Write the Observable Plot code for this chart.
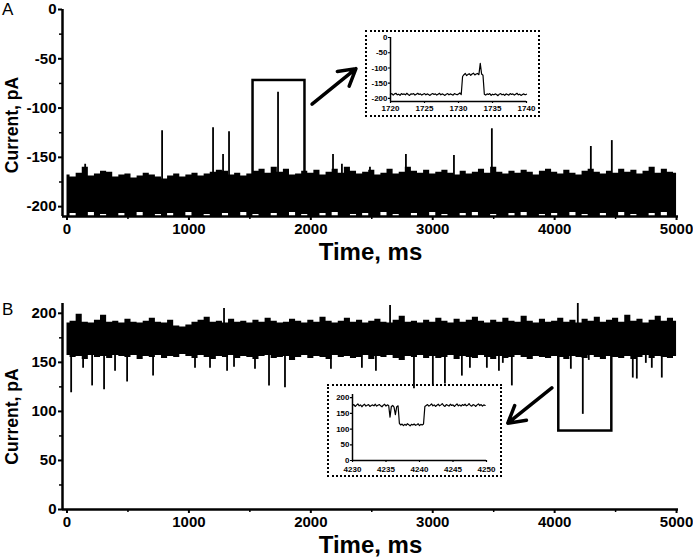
<!DOCTYPE html>
<html>
<head>
<meta charset="utf-8">
<script src="https://cdn.jsdelivr.net/npm/d3@7"></script>
<script src="https://cdn.jsdelivr.net/npm/@observablehq/plot@0.6"></script>
<style>
  html, body { margin: 0; padding: 0; background: #fff; }
  body { font-family: "Liberation Sans", Arial, sans-serif; }
  #wrap { position: relative; width: 693px; height: 558px; overflow: hidden; background: #fff; }
  .tag { position: absolute; font-size: 17px; line-height: 1; color: #000; }
  .inset { position: absolute; box-sizing: border-box; border: 2px dotted #000; background: transparent; }
  .inset svg { position: absolute; left: 0; top: 0; background: transparent !important; }
</style>
</head>
<body>
<div id="wrap"></div>
<script>
// ---------------- DATA ----------------
const xDomain = [-37, 5016];
const xMajorTicks = [0, 1000, 2000, 3000, 4000, 5000];
const xMinorTicks = [500, 1500, 2500, 3500, 4500];
const xLabel = "Time, ms";
const yLabel = "Current, pA";

// Panel A
const yDomainA = [-210, 0];
const yMajorA = [-200, -150, -100, -50, 0];
const yMinorA = [-175, -125, -75, -25];
const bandStep = 50; // ms between envelope samples
const bandTopA = [
 -168,-170,-166,-160,-169,-167,-164,-165,-170,-168,
 -167,-171,-169,-166,-168,-170,-172,-169,-167,-170,
 -168,-166,-169,-167,-165,-163,-164,-168,-166,-169,
 -167,-164,-162,-166,-160,-165,-162,-168,-167,-164,
 -166,-163,-168,-165,-162,-166,-160,-164,-167,-165,
 -163,-168,-166,-162,-167,-165,-160,-164,-166,-163,
 -167,-165,-163,-166,-168,-164,-167,-165,-162,-166,
 -160,-165,-167,-164,-166,-163,-165,-168,-164,-162,
 -165,-167,-163,-166,-168,-164,-162,-165,-167,-164,
 -166,-162,-165,-163,-167,-164,-160,-166,-162,-165,
 -166];
const bandBotA = [
 -210,-207,-210,-210,-206,-210,-208,-210,-210,-207,
 -210,-210,-206,-210,-210,-208,-210,-207,-210,-210,
 -206,-210,-210,-208,-210,-210,-207,-210,-210,-206,
 -210,-208,-210,-210,-207,-210,-210,-206,-210,-208,
 -210,-210,-207,-210,-206,-210,-210,-208,-210,-207,
 -210,-210,-206,-210,-208,-210,-210,-207,-210,-210,
 -206,-210,-208,-210,-210,-207,-210,-206,-210,-210,
 -208,-210,-210,-207,-210,-206,-210,-210,-208,-210,
 -207,-210,-210,-206,-210,-208,-210,-210,-207,-210,
 -210,-206,-210,-208,-210,-210,-207,-210,-206,-210,
 -210];
const spikeBaseA = -185;
const spikeTimesA = [149, 780, 1198, 1280, 1329, 1731, 2182, 2255, 2485, 2780, 3174, 3485, 4297, 4469];
const spikeValsA  = [-157, -123, -120, -147, -124, -84, -147, -157, -160, -147, -148, -121, -139, -133];
const zoomBoxA = {t1: 1526, t2: 1952, v1: -190, v2: -72};
const arrowA = {t1: 2010, v1: -96, t2: 2370, v2: -60};

// Inset A
const insetAStart = 1720, insetAStep = 0.2;
const insetAX = [1720, 1725, 1730, 1735, 1740];
const insetAY = [0, -50, -100, -150, -200];
const insetAYDomain = [-210, 0];
const insetAVals = [
 -186,-184,-189,-185,-183,-188,-186,-190,-184,-187,
 -185,-188,-183,-187,-190,-185,-186,-184,-189,-186,
 -183,-187,-185,-189,-186,-184,-188,-185,-187,-190,
 -186,-184,-187,-185,-189,-186,-183,-188,-185,-187,
 -190,-186,-184,-188,-185,-187,-189,-184,-186,-188,
 -185,-182,-187,
 -128,
 -122,-118,-125,-121,-119,-124,-120,-117,-123,-120,-118,-122,
 -85,
 -120,-124,
 -186,
 -189,-185,-187,-184,-190,-186,-188,-185,-187,-191,
 -186,-184,-188,-186,-190,-185,-187,-189,-184,-187,
 -185,-189,-186,-183,-188,-186,-190,-187,-185,-188,-186];

// Panel B
const yDomainB = [0, 210];
const yMajorB = [0, 50, 100, 150, 200];
const yMinorB = [25, 75, 125, 175];
const bandTopB = [
 190,192,199,191,190,193,198,191,192,190,
 194,191,190,192,195,191,190,193,187,186,
 188,191,193,196,191,192,190,194,191,192,
 190,193,191,195,192,190,191,194,192,190,
 193,191,196,192,190,192,195,191,193,190,
 192,194,191,190,193,197,191,192,190,193,
 191,195,192,190,194,191,193,196,192,190,
 193,191,195,192,191,197,192,190,194,191,
 192,195,191,193,190,194,192,196,191,193,
 195,191,198,192,194,190,193,197,192,195,
 192];
const bandBotB = [
 157,155,156,153,157,155,156,154,157,156,
 155,157,153,156,155,157,154,156,155,158,
 156,154,157,155,153,156,155,157,154,156,
 155,153,156,157,154,155,156,152,155,157,
 154,156,155,153,157,155,156,154,155,157,
 153,156,155,157,154,152,156,155,157,154,
 156,154,155,157,153,156,155,154,157,155,
 153,156,154,155,157,155,153,156,155,154,
 156,155,153,156,155,154,157,155,153,156,
 155,154,156,153,155,157,154,156,155,154,
 156];
const spikeBaseDownB = 170;
const spikeTimesDownB = [34, 132, 206, 304, 394, 493, 706, 1050, 1173, 1313, 1370, 1542, 1657, 1788, 2165, 2419, 2534, 2846, 3001, 3100, 3239, 3305, 3444, 3543, 3575, 3649, 4133, 4231, 4280, 4641, 4674, 4748, 4797, 4879];
const spikeValsDownB  = [119, 144, 126, 122, 141, 130, 136, 144, 144, 141, 145, 143, 126, 124, 143, 144, 141, 123, 126, 128, 136, 144, 144, 141, 149, 126, 143, 97, 152, 134, 133, 149, 144, 134];
const spikeBaseUpB = 180;
const spikeTimesUpB = [1288, 2650, 4190];
const spikeValsUpB  = [205, 208, 210];
const zoomBoxB = {t1: 4034, t2: 4469, v1: 80, v2: 170};
const arrowB = {t1: 3977, v1: 124, t2: 3616, v2: 88};

// Inset B
const insetBStart = 4230, insetBStep = 0.2;
const insetBX = [4230, 4235, 4240, 4245, 4250];
const insetBY = [0, 50, 100, 150, 200];
const insetBYDomain = [0, 210];
const insetBVals = [
 175,178,172,176,180,174,177,171,176,179,
 173,176,178,172,175,177,174,179,173,176,
 178,174,171,176,179,173,177,175,
 138,
 172,175,170,
 146,
 171,174,
 118,
 113,116,111,115,112,117,114,110,115,113,116,112,114,117,111,115,113,116,
 172,
 175,178,173,176,180,174,177,172,176,179,
 174,177,181,175,172,178,176,173,179,175,
 177,172,176,180,174,177,173,178,175,179,
 174,176,181,175,173,178,176,172,177,180,
 175,178,173,177,175];

// ---------------- BUILD ----------------
const FONT = "'Liberation Sans', Arial, Helvetica, sans-serif";
const fmt = d => String(d);
const band = (top, bot) => top.map((hi, i) => ({t: i * bandStep, hi, lo: bot[i]}));
const spikes = (ts, vs, base) => ts.map((t, i) => ({t, v: vs[i], base}));
const series = (vals, t0, dt) => vals.map((v, i) => ({t: t0 + i * dt, v}));

function mainPanel({height, marginTop, marginBottom, yDomain, yMajor, yMinor, bandData, spikeSets, box, arrow, labelDy, titleDy}) {
  return Plot.plot({
    width: 693, height,
    marginLeft: 62, marginRight: 15, marginTop, marginBottom,
    x: {domain: xDomain, label: null},
    y: {domain: yDomain, label: null},
    style: {fontFamily: FONT, fontSize: "15px", fontWeight: "bold", color: "black", background: "transparent", overflow: "visible"},
    marks: [
      Plot.rect([box], {x1: "t1", x2: "t2", y1: "v1", y2: "v2", fill: "none", stroke: "black", strokeWidth: 2.5}),
      Plot.areaY(bandData, {x: "t", y1: "lo", y2: "hi", curve: "step", fill: "black"}),
      ...spikeSets.map(s => Plot.ruleX(s, {x: "t", y1: "base", y2: "v", stroke: "black", strokeWidth: 1.8})),
      Plot.arrow([arrow], {x1: "t1", y1: "v1", x2: "t2", y2: "v2", stroke: "black", strokeWidth: 3.5, headLength: 14, headAngle: 60}),
      Plot.axisX(xMajorTicks, {tickSize: 4, tickPadding: 3, strokeWidth: 2, tickFormat: fmt, label: null}),
      Plot.axisX(xMinorTicks, {tickSize: 3, strokeWidth: 1.5, tickFormat: () => "", label: null}),
      Plot.axisY(yMajor, {tickSize: 4, tickPadding: 2, strokeWidth: 2, tickFormat: fmt, label: null}),
      Plot.axisY(yMinor, {tickSize: 3, strokeWidth: 1.5, tickFormat: () => "", label: null}),
      Plot.ruleY([yDomain[0]], {stroke: "black", strokeWidth: 2.5}),
      Plot.ruleX([xDomain[0]], {stroke: "black", strokeWidth: 2.5}),
      Plot.text([xLabel], {text: d => d, frameAnchor: "bottom", textAnchor: "middle", lineAnchor: "middle", dy: titleDy, fontSize: 24, fontWeight: "bold", fill: "black"}),
      Plot.text([yLabel], {text: d => d, frameAnchor: "left", textAnchor: "middle", lineAnchor: "middle", dx: -50, dy: labelDy, rotate: -90, fontSize: 17.5, fontWeight: "bold", fill: "black"})
    ]
  });
}

function insetPlot({width, height, ml, mr, mt, mb, xDom, yDom, xt, yt, data, xPad}) {
  return Plot.plot({
    width, height, marginLeft: ml, marginRight: mr, marginTop: mt, marginBottom: mb,
    x: {domain: xDom, label: null},
    y: {domain: yDom, label: null},
    style: {fontFamily: FONT, fontSize: "8px", fontWeight: "bold", color: "black", background: "transparent", overflow: "visible"},
    marks: [
      Plot.line(data, {x: "t", y: "v", stroke: "black", strokeWidth: 1.2}),
      Plot.axisX(xt, {tickSize: 2, tickPadding: xPad, strokeWidth: 1.2, tickFormat: fmt, label: null}),
      Plot.axisY(yt, {tickSize: 2, tickPadding: 1, strokeWidth: 1.2, tickFormat: fmt, label: null}),
      Plot.ruleY([yDom[0]], {stroke: "black", strokeWidth: 1.5}),
      Plot.ruleX([xDom[0]], {stroke: "black", strokeWidth: 1.5})
    ]
  });
}

const wrap = document.getElementById("wrap");
function place(el, left, top) {
  el.style.position = "absolute";
  el.style.left = left + "px";
  el.style.top = top + "px";
  wrap.appendChild(el);
  return el;
}

const A = mainPanel({
  height: 270, marginTop: 9, marginBottom: 54,
  yDomain: yDomainA, yMajor: yMajorA, yMinor: yMinorA,
  bandData: band(bandTopA, bandBotA),
  spikeSets: [spikes(spikeTimesA, spikeValsA, spikeBaseA)],
  box: zoomBoxA, arrow: arrowA, labelDy: 12, titleDy: 36
});
place(A, 0, 0);

const B = mainPanel({
  height: 288, marginTop: 33, marginBottom: 49,
  yDomain: yDomainB, yMajor: yMajorB, yMinor: yMinorB,
  bandData: band(bandTopB, bandBotB),
  spikeSets: [spikes(spikeTimesDownB, spikeValsDownB, spikeBaseDownB), spikes(spikeTimesUpB, spikeValsUpB, spikeBaseUpB)],
  box: zoomBoxB, arrow: arrowB, labelDy: 10, titleDy: 36
});
place(B, 0, 270);

// Insets
function makeInset(left, top, w, h, svg) {
  const d = document.createElement("div");
  d.className = "inset";
  d.style.width = w + "px";
  d.style.height = h + "px";
  d.appendChild(svg);
  place(d, left, top);
}
makeInset(365, 30, 175, 87, insetPlot({
  width: 171, height: 83, ml: 23, mr: 12, mt: 5, mb: 14,
  xDom: [insetAX[0], insetAX[insetAX.length - 1]], yDom: insetAYDomain,
  xt: insetAX, yt: insetAY, data: series(insetAVals, insetAStart, insetAStep), xPad: 2
}));
makeInset(327, 384, 175, 93, insetPlot({
  width: 171, height: 89, ml: 23, mr: 14, mt: 8, mb: 15,
  xDom: [insetBX[0], insetBX[insetBX.length - 1]], yDom: insetBYDomain,
  xt: insetBX, yt: insetBY, data: series(insetBVals, insetBStart, insetBStep), xPad: 3.5
}));

// Panel tags
function tag(txt, left, top) {
  const d = document.createElement("div");
  d.className = "tag";
  d.textContent = txt;
  place(d, left, top);
}
tag("A", 2, 1);
tag("B", 2, 301);
</script>
</body>
</html>
